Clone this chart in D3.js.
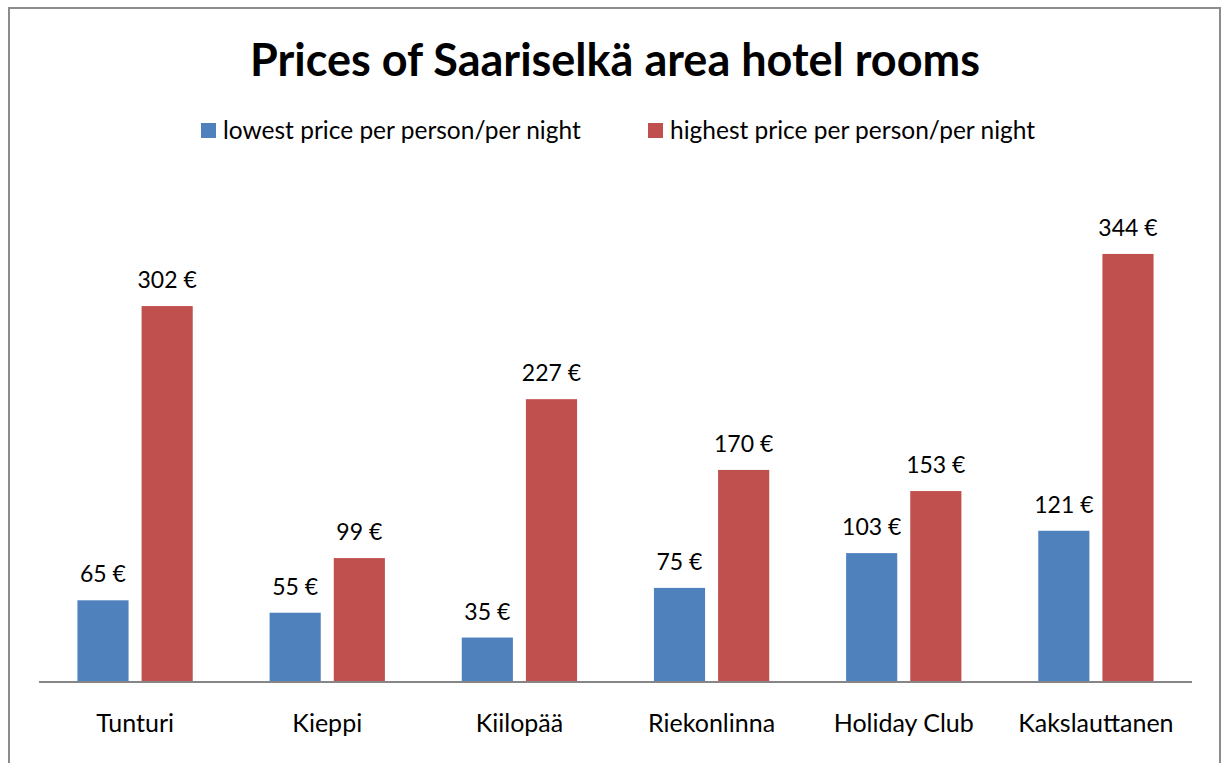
<!DOCTYPE html>
<html><head><meta charset="utf-8">
<script src="https://cdn.jsdelivr.net/npm/d3@7"></script>
<style>html,body{margin:0;padding:0;background:#fff;}</style>
</head><body>
<svg id="chart" width="1222" height="763"></svg>
<script>
const categories = ["Tunturi","Kieppi","Kiilopää","Riekonlinna","Holiday Club","Kakslauttanen"];
const lowest = [65,55,35,75,103,121];
const highest = [302,99,227,170,153,344];
const seriesNames = ["lowest price per person/per night","highest price per person/per night"];
const colors = ["#4F81BD","#C0504D"];
const title = "Prices of Saariselkä area hotel rooms";

const font = "Lato, 'Noto Sans', sans-serif";
const svg = d3.select("#chart");
svg.append("rect").attr("x",9).attr("y",8).attr("width",1211).attr("height",770)
  .attr("fill","#fff").attr("stroke","#8c8c8c").attr("stroke-width",2);

svg.append("text").attr("x",615).attr("y",76).attr("text-anchor","middle")
  .attr("font-family",font).attr("font-weight","bold").attr("font-size",45).text(title);

const x0 = d3.scaleBand().domain(categories).range([39,1192]).paddingInner(0.4).paddingOuter(0.2);
const x1 = d3.scaleBand().domain([0,1]).range([0,x0.bandwidth()]).paddingInner(0.203);
const y = d3.scaleLinear().domain([0,400]).range([681,184.4]);

const data = categories.map((c,i)=>({c, vals:[lowest[i],highest[i]]}));
const g = svg.append("g");
const groups = g.selectAll("g").data(data).join("g").attr("transform",d=>`translate(${x0(d.c)},0)`);
groups.selectAll("rect").data(d=>d.vals.map((v,k)=>({v,k}))).join("rect")
  .attr("x",d=>x1(d.k)).attr("width",x1.bandwidth())
  .attr("y",d=>y(d.v)).attr("height",d=>y(0)-y(d.v)).attr("fill",d=>colors[d.k]);
groups.selectAll("text").data(d=>d.vals.map((v,k)=>({v,k}))).join("text")
  .attr("x",d=>x1(d.k)+x1.bandwidth()/2).attr("y",d=>y(d.v)-18)
  .attr("text-anchor","middle").attr("font-family",font).attr("font-size",23)
  .text(d=>d.v+" €");

svg.append("line").attr("x1",39).attr("x2",1192).attr("y1",y(0)+1).attr("y2",y(0)+1)
  .attr("stroke","#868686").attr("stroke-width",2);

const xAxis = d3.axisBottom(x0).tickSize(0).tickPadding(0);
const ax = svg.append("g").attr("transform",`translate(0,${y(0)})`).call(xAxis);
ax.select(".domain").remove();
ax.selectAll("text").attr("font-family",font).attr("font-size",25).attr("fill","#000")
  .attr("dy",null).attr("y",51);

const legendX = [201,648];
const lg = svg.append("g");
seriesNames.forEach((s,i)=>{
  lg.append("rect").attr("x",legendX[i]).attr("y",123).attr("width",15).attr("height",15).attr("fill",colors[i]);
  lg.append("text").attr("x",legendX[i]+22).attr("y",139).attr("font-family",font).attr("font-size",24.5).text(s);
});
</script>
</body></html>
